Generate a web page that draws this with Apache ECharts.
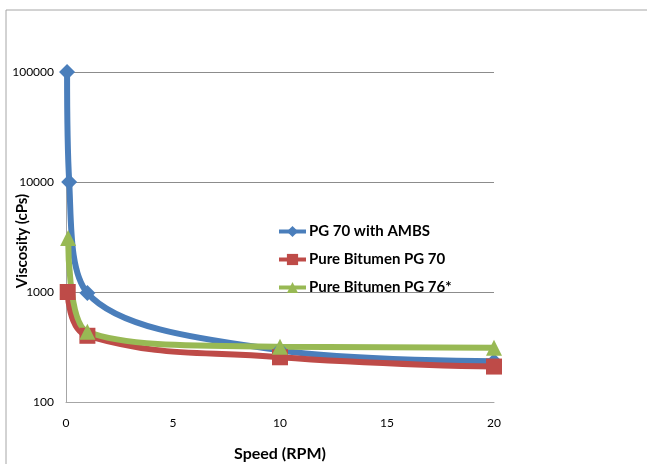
<!DOCTYPE html>
<html>
    <head>
        <meta charset="UTF-8">
        <style>
            html, body { margin: 0; padding: 0; background: #fff; }
            #container { width: 647px; height: 464px; }
        </style>
    </head>
    <body>
        <div id="container"></div>
        <script type="text/javascript" src="https://cdn.jsdelivr.net/npm/echarts@6/dist/echarts.min.js"></script>
        <script type="text/javascript">
        // values (speed in RPM, viscosity in cPs)
        var seriesNames = ["PG 70 with AMBS", "Pure Bitumen PG 70", "Pure Bitumen PG 76*"];
        var ambsSpeed = [0.05, 0.15, 1, 10, 20];
        var ambsVisc = [100000, 10000, 980, 295, 235];
        var pg70Speed = [0.08, 1, 10, 20];
        var pg70Visc = [1000, 400, 255, 210];
        var pg76Speed = [0.1, 1, 10, 20];
        var pg76Visc = [3100, 435, 318, 312];
        var xTicks = [0, 5, 10, 15, 20];

        function pairs(xs, ys) {
            var out = [];
            for (var i = 0; i < xs.length; i++) {
                out.push([xs[i], ys[i]]);
            }
            return out;
        }

        var font = "Lato, 'Liberation Sans', sans-serif";
        var myChart = echarts.init(document.getElementById("container"));

        function lineSeries(name, data, color, symbol, size, smooth) {
            return {
                name: name,
                type: "line",
                data: data,
                smooth: smooth,
                symbol: symbol,
                symbolSize: size,
                lineStyle: {color: color, width: 6},
                itemStyle: {color: color},
                emphasis: {disabled: true}
            };
        }

        var option = {
            animation: false,
            textStyle: {fontFamily: font},
            graphic: [{
                type: "rect",
                shape: {x: 6, y: 10, width: 700, height: 500},
                style: {fill: null, stroke: "#a6a6a6", lineWidth: 1},
                silent: true
            }],
            legend: {
                orient: "vertical",
                left: 277,
                top: 224,
                padding: 0,
                itemWidth: 27,
                itemHeight: 14,
                itemGap: 13,
                data: seriesNames,
                lineStyle: {width: 4},
                textStyle: {fontFamily: font, fontSize: 15, fontWeight: "bold", color: "#000", padding: [0, 0, 0, -2]}
            },
            grid: {left: 66, right: 153, top: 72, bottom: 62, outerBoundsMode: "none", containLabel: false},
            xAxis: {
                type: "value",
                min: 0,
                max: 20,
                interval: 5,
                name: "Speed (RPM)",
                nameLocation: "middle",
                nameGap: 44,
                nameMoveOverlap: false,
                nameTextStyle: {fontFamily: font, fontSize: 16, fontWeight: "bold", color: "#000"},
                axisLine: {lineStyle: {color: "#a6a6a6", width: 1}},
                axisTick: {show: false},
                splitLine: {show: false},
                axisLabel: {
                    fontSize: 12, color: "#000", margin: 15,
                    formatter: function (v) { return xTicks.indexOf(v) >= 0 ? String(v) : ""; }
                }
            },
            yAxis: {
                type: "log",
                logBase: 10,
                min: 100,
                max: 100000,
                name: "Viscosity (cPs)",
                nameLocation: "middle",
                nameGap: 36,
                nameMoveOverlap: false,
                nameTextStyle: {fontFamily: font, fontSize: 15, fontWeight: "bold", color: "#000", padding: [0, 8, 0, 0]},
                axisLine: {show: true, lineStyle: {color: "#a6a6a6", width: 1}},
                axisTick: {show: false},
                splitLine: {show: true, lineStyle: {color: "#8c8c8c", width: 1}},
                axisLabel: {fontSize: 12, color: "#000", margin: 12, formatter: function (v) { return String(v); }}
            },
            series: [
                lineSeries(seriesNames[0], pairs(ambsSpeed, ambsVisc), "#4a7ebb", "diamond", 16, 0.35),
                lineSeries(seriesNames[1], pairs(pg70Speed, pg70Visc), "#be4b48", "rect", 16, 0.45),
                lineSeries(seriesNames[2], pairs(pg76Speed, pg76Visc), "#98b954", "triangle", 16, 0.45)
            ]
        };
        myChart.setOption(option);
        </script>
    </body>
</html>
